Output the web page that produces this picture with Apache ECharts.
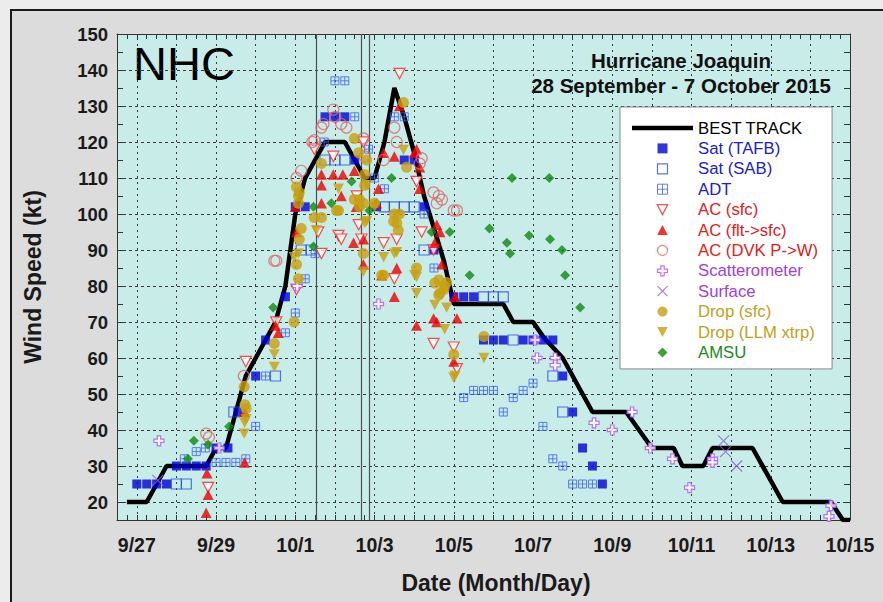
<!DOCTYPE html>
<html><head><meta charset="utf-8">
<script src="https://cdn.jsdelivr.net/npm/echarts@6/dist/echarts.min.js"></script>
<style>
html,body{margin:0;padding:0;background:#ececec;width:883px;height:602px;overflow:hidden;}
#frame{position:absolute;left:10px;top:9px;width:900px;height:700px;border:2px solid #1a1a1a;background:#dcdcdc;}
#chart{position:absolute;left:0;top:0;width:883px;height:602px;}
</style></head><body>
<div id="frame"></div><div id="chart"></div>
<script>
// x values are days after 27 September 2015 00 UTC
const xTickDays = [0, 2, 4, 6, 8, 10, 12, 14, 16, 18];
const xTickLabels = ['9/27', '9/29', '10/1', '10/3', '10/5', '10/7', '10/9', '10/11', '10/13', '10/15'];
const yTickKts = [20, 30, 40, 50, 60, 70, 80, 90, 100, 110, 120, 130, 140, 150];
const gridDays = [0, 1, 2, 3, 4, 5, 6, 7, 8, 9, 10, 11, 12, 13, 14, 15, 16, 17];
const gridKts = [20, 30, 40, 50, 60, 70, 80, 90, 100, 110, 120, 130, 140];
const eventDays = [4.53, 5.67, 5.87];

const bestTrack = [[-0.25,20],[0.25,20],[0.75,30],[1.75,30],[2,35],[2.25,35],[2.5,45],[2.75,55],[3,60],[3.25,65],[3.5,70],[3.75,80],[4,100],[4.25,110],[4.5,115],[4.75,120],[5,120],[5.25,120],[5.5,115],[5.75,110],[6,110],[6.25,120],[6.5,135],[6.75,127],[7,117],[7.25,105],[7.5,96],[7.75,87],[8,75],[9.25,75],[9.5,70],[10,70],[10.25,66],[10.5,63],[10.75,60],[11,55],[11.25,50],[11.5,45],[12.35,45],[13,35],[13.55,35],[13.77,30],[14.3,30],[14.53,35],[15.54,35],[16.3,20],[17.52,20],[17.82,15],[18,15]];

const satTAFB = [[0,25],[0.25,25],[0.5,25],[0.75,25],[1,30],[1.25,30],[1.5,30],[1.75,30],[2,35],[2.3,35],[2.55,45],[3,55],[3.25,65],[3.75,77],[4,102],[4.25,102],[4.75,127],[5,127],[5.25,127],[5.5,115],[6.05,102],[7.25,102],[6.75,115],[7,115],[7.5,90],[8,77],[8.25,77],[8.5,77],[8.75,65],[9,65],[9.25,65],[9.75,65],[10,65],[10.25,65],[10.5,65],[10.75,55],[11,45],[11.25,35],[11.5,30],[11.75,25]];
const satSAB = [[1,25],[1.25,25],[2.45,45],[3.5,55],[4.15,90],[4.4,90],[4.75,115],[5,115],[5.25,115],[6.25,102],[6.5,102],[6.75,102],[7,102],[7.25,90],[8.75,77],[9,77],[9.25,77],[9.5,65],[10.5,55],[10.75,45]];
const adt = [[1.2,32],[1.5,34],[1.73,35],[2,31],[2.25,31],[2.5,31],[2.75,32],[3,41],[3.25,55],[3.75,67],[4,72.5],[4.25,82],[4.5,89],[4.73,120],[5,137],[5.25,137],[5.5,127],[5.85,118],[6,110],[6.25,107],[6.5,127],[6.75,127],[7.25,100],[7.5,85],[8.25,49],[8.5,51],[8.75,51],[9,51],[9.25,45],[9.5,49],[9.75,51],[10,53],[10.25,41],[10.5,32],[10.75,30],[11,25],[11.25,25],[11.5,25]];
const acSfc = [[1.8,24],[2.75,59],[3.52,70],[4.03,79],[4.48,118],[4.58,95],[4.66,89],[4.96,116],[5.09,94],[5.16,93],[5.55,105],[5.6,97],[5.67,93],[5.72,120],[6.23,92],[6.5,82],[6.56,93],[6.63,139],[7.06,109],[7.19,95],[7.49,90],[7.49,64],[8,63],[8.08,57]];
const acFlt = [[1.77,28],[1.8,22],[1.75,17],[2.72,31],[2.72,45],[3.57,67],[3.5,69],[4,102],[4.03,95],[4.66,111],[4.66,108],[4.66,103],[4.96,111],[5.2,111],[5.16,105],[5.49,112],[5.54,102],[5.47,92],[5.72,93],[5.72,86],[6.05,103],[6.1,107],[6.18,83],[6.23,117],[6.56,85],[6.5,77],[6.5,116],[6.63,130],[7.01,117],[7.06,118],[7.14,113],[7.14,107],[7.06,69],[7.52,92],[7.49,71],[7.57,70],[7.7,86],[7.57,97],[7.65,95],[8.03,77],[8.08,71],[8,59]];
const acDvk = [[1.75,39],[1.82,38],[2.7,55],[3.47,87],[3.52,87],[4.03,110],[4.15,112],[4.43,120],[4.48,120.5],[4.66,124],[4.71,125],[4.96,129],[5.01,127],[5.16,125],[5.29,124],[5.72,121],[5.75,116],[6.23,115],[6.5,124],[6.56,120],[7.14,114],[7.19,115.5],[7.49,106],[7.62,105],[7.7,104],[7.57,103],[8,101],[8.08,101]];
const scat = [[0.56,37],[2.08,35],[4.05,80],[6.1,75],[10.05,65],[10.1,60],[10.56,60],[10.56,58],[11.54,42],[12,40],[12.5,45],[12.96,35],[13.52,32],[13.95,24],[14.53,32],[14.53,31],[17.52,19],[17.47,16]];
const surface = [[0.53,26],[14.81,37],[14.86,34],[15.14,30]];
const dropSfc = [[2.71,52],[2.73,47],[2.76,46],[3.47,64],[3.97,70],[4.08,82],[4.03,86],[4.1,93],[4.15,96],[4.08,103],[4.08,105],[4.1,106],[4.03,107.5],[4.48,99],[4.66,99],[4.66,114],[5.04,101],[5.09,101],[5.49,121],[5.6,117],[5.8,115],[5.75,111],[5.75,108],[5.49,104],[5.62,102],[5.62,104],[5.72,103],[6,103],[5.72,89],[6.18,83],[6.23,83],[6.5,100],[6.56,97.5],[6.63,100],[6.6,95.5],[6.48,98],[6.73,131],[6.81,113],[7.06,85],[7.62,81.7],[7.52,80.8],[7.75,79],[7.77,80],[7.65,78],[7.62,77.5],[7.82,81],[8.76,66],[8,61]];
const dropLlm = [[2.72,42],[2.71,39],[2.76,43],[3.47,61],[3.47,57.5],[3.97,88],[4.08,89],[4.53,95.5],[5.09,107],[5.8,108],[5.75,97.5],[5.8,98],[6,102],[5.72,84],[6.23,88],[6.5,89],[6.56,89.4],[6.73,117.8],[7.01,83],[7.06,78],[7.06,82.5],[7.77,68],[7.52,74.7],[7.82,74],[8,54.5],[8.03,55],[8.76,60]];
const amsu = [[1.29,32],[1.44,37],[1.8,36],[2.33,41],[3.44,74],[4.46,91],[4.46,102],[4.91,103],[5.42,109],[5.87,101],[6.43,110],[7.44,95],[7.9,95],[8.4,83],[8.9,96],[9.34,92],[9.42,89],[9.47,110],[9.9,94],[10.41,110],[10.43,93],[10.73,90],[10.81,83],[11.19,74]];

const FONT = "'Liberation Sans', Arial, Helvetica, sans-serif";
const chart = echarts.init(document.getElementById('chart'), null, {renderer: 'svg'});

function xLabel(v) {
  for (let i = 0; i < xTickDays.length; i++) if (Math.abs(v - xTickDays[i]) < 1e-6) return xTickLabels[i];
  return '';
}
function yLabel(v) {
  for (let i = 0; i < yTickKts.length; i++) if (Math.abs(v - yTickKts[i]) < 1e-6) return String(yTickKts[i]);
  return '';
}

const SQUARE = 'path://M0,0H10V10H0Z';
const TRI_UP = 'path://M5,0L10,9.5H0Z';
const TRI_DOWN = 'path://M0,0H10L5,9.5Z';
const DIAMOND = 'path://M5,0L10,5L5,10L0,5Z';
const PLUS = 'path://M3.3,0H6.7V3.3H10V6.7H6.7V10H3.3V6.7H0V3.3H3.3Z';
const XMARK = 'path://M0,0L10,10M10,0L0,10';
const ADTSYM = 'path://M0,0H10V10H0Z M5,0V10 M0,5H10';
const BTICON = 'path://M0,0H61V4.5H0Z';

const markData = [];
gridDays.forEach(d => markData.push({xAxis: d, lineStyle: {color: '#3a3a3a', width: 1, type: [2, 4]}}));
gridKts.forEach(k => markData.push({yAxis: k, lineStyle: {color: '#3a3a3a', width: 1, type: [3, 3]}}));
eventDays.forEach(d => markData.push({xAxis: d, lineStyle: {color: '#505050', width: 1.2, type: 'solid'}}));

function sc(name, data, symbol, size, itemStyle) {
  return {name, type: 'scatter', data, symbol, symbolSize: size, symbolKeepAspect: true,
    itemStyle, z: 3, silent: true, emphasis: {disabled: true}};
}

const T = 'transparent';
const series = [
  {name: 'BEST TRACK', type: 'line', data: bestTrack, symbol: 'none', showSymbol: false, z: 2, silent: true,
   lineStyle: {color: '#000', width: 4.5}, itemStyle: {color: '#000'},
   markLine: {z: 1, silent: true, symbol: ['none', 'none'], label: {show: false}, emphasis: {disabled: true},
     animation: false, data: markData}},
  sc('Sat (TAFB)', satTAFB, SQUARE, 9, {color: '#0000d8'}),
  sc('Sat (SAB)', satSAB, SQUARE, 10, {color: T, borderColor: '#3050e0', borderWidth: 1.2}),
  sc('ADT', adt, ADTSYM, 8, {color: T, borderColor: '#4060f0', borderWidth: 1}),
  sc('AC (sfc)', acSfc, TRI_DOWN, 11, {color: '#ffffff', borderColor: '#ff2020', borderWidth: 1.2}),
  sc('AC (flt->sfc)', acFlt, TRI_UP, 11, {color: '#ee0000'}),
  sc('AC (DVK P->W)', acDvk, 'circle', 11, {color: T, borderColor: '#e06666', borderWidth: 1.2}),
  sc('Scatterometer', scat, PLUS, 10, {color: '#ffffff', borderColor: '#b050f0', borderWidth: 1.2}),
  sc('Surface', surface, XMARK, 11, {color: T, borderColor: '#9060d0', borderWidth: 1.2}),
  sc('Drop (sfc)', dropSfc, 'circle', 11, {color: '#c8a010'}),
  sc('Drop (LLM xtrp)', dropLlm, TRI_DOWN, 11, {color: '#c8a010'}),
  sc('AMSU', amsu, DIAMOND, 10, {color: '#108810'})
];

const legendColors = ['#000000', '#2020c8', '#2020c8', '#2020c8', '#e02020', '#e02020', '#e02020', '#a040e0', '#a040e0', '#c0a020', '#c0a020', '#208a20'];

const axisBase = {
  type: 'value',
  axisLine: {show: true, onZero: false, lineStyle: {color: '#333', width: 1}},
  axisTick: {show: true, inside: true, length: 5, lineStyle: {color: '#333', width: 1}},
  splitLine: {show: false}
};

chart.setOption({
  animation: false,
  backgroundColor: 'transparent',
  grid: {left: 117, top: 34, width: 733, height: 486, show: true, backgroundColor: '#c8ece8', borderWidth: 0,
         containLabel: false, outerBoundsMode: 'none'},
  xAxis: [
    Object.assign({}, axisBase, {position: 'bottom', min: -0.5, max: 18, interval: 0.25,
      axisLabel: {formatter: xLabel, margin: 15, color: '#1a1a1a', fontFamily: FONT, fontWeight: 'bold', fontSize: 19.5,
                  showMinLabel: true, showMaxLabel: true}}),
    Object.assign({}, axisBase, {position: 'top', min: -0.5, max: 18, interval: 0.25, axisLabel: {show: false}})
  ],
  yAxis: [
    Object.assign({}, axisBase, {position: 'left', min: 15, max: 150, interval: 5, axisTick: {show: true, inside: true, length: 6, lineStyle: {color: '#333'}},
      axisLabel: {formatter: yLabel, margin: 9, color: '#1a1a1a', fontFamily: FONT, fontWeight: 'bold', fontSize: 18.5,
                  showMinLabel: true, showMaxLabel: true}}),
    Object.assign({}, axisBase, {position: 'right', min: 15, max: 150, interval: 5, axisTick: {show: true, inside: true, length: 6, lineStyle: {color: '#333'}},
      axisLabel: {show: false}})
  ],
  legend: {
    orient: 'vertical', left: 620, top: 107, padding: [12.5, 14, 8, 12],
    backgroundColor: '#ffffff', borderColor: '#8a8a8a', borderWidth: 1,
    itemWidth: 61, itemHeight: 10, itemGap: 3.4, selectedMode: false, symbolKeepAspect: true,
    itemStyle: {borderWidth: 'inherit'}, lineStyle: {width: 'inherit'},
    textStyle: {fontFamily: FONT, fontSize: 16.7, lineHeight: 17},
    data: series.map((s, i) => (i === 0
      ? {name: s.name, icon: BTICON, itemStyle: {color: '#000', borderWidth: 0}, textStyle: {color: legendColors[i]}}
      : {name: s.name, textStyle: {color: legendColors[i]}}))
  },
  graphic: [
    {type: 'text', x: 133, y: 63, silent: true, style: {text: 'NHC', font: '47px ' + FONT, fill: '#000', verticalAlign: 'middle', align: 'left'}},
    {type: 'text', x: 681, y: 60, silent: true, style: {text: 'Hurricane Joaquin', font: 'bold 20.5px ' + FONT, fill: '#111', align: 'center', verticalAlign: 'middle'}},
    {type: 'text', x: 681, y: 85, silent: true, style: {text: '28 September - 7 October 2015', font: 'bold 20.5px ' + FONT, fill: '#111', align: 'center', verticalAlign: 'middle'}},
    {type: 'text', x: 496, y: 583, silent: true, style: {text: 'Date (Month/Day)', font: 'bold 23px ' + FONT, fill: '#1a1a1a', align: 'center', verticalAlign: 'middle'}},
    {type: 'text', x: 33, y: 277, rotation: Math.PI / 2, silent: true, style: {text: 'Wind Speed (kt)', font: 'bold 23px ' + FONT, fill: '#1a1a1a', align: 'center', verticalAlign: 'middle'}}
  ],
  series
});
</script>
</body></html>
